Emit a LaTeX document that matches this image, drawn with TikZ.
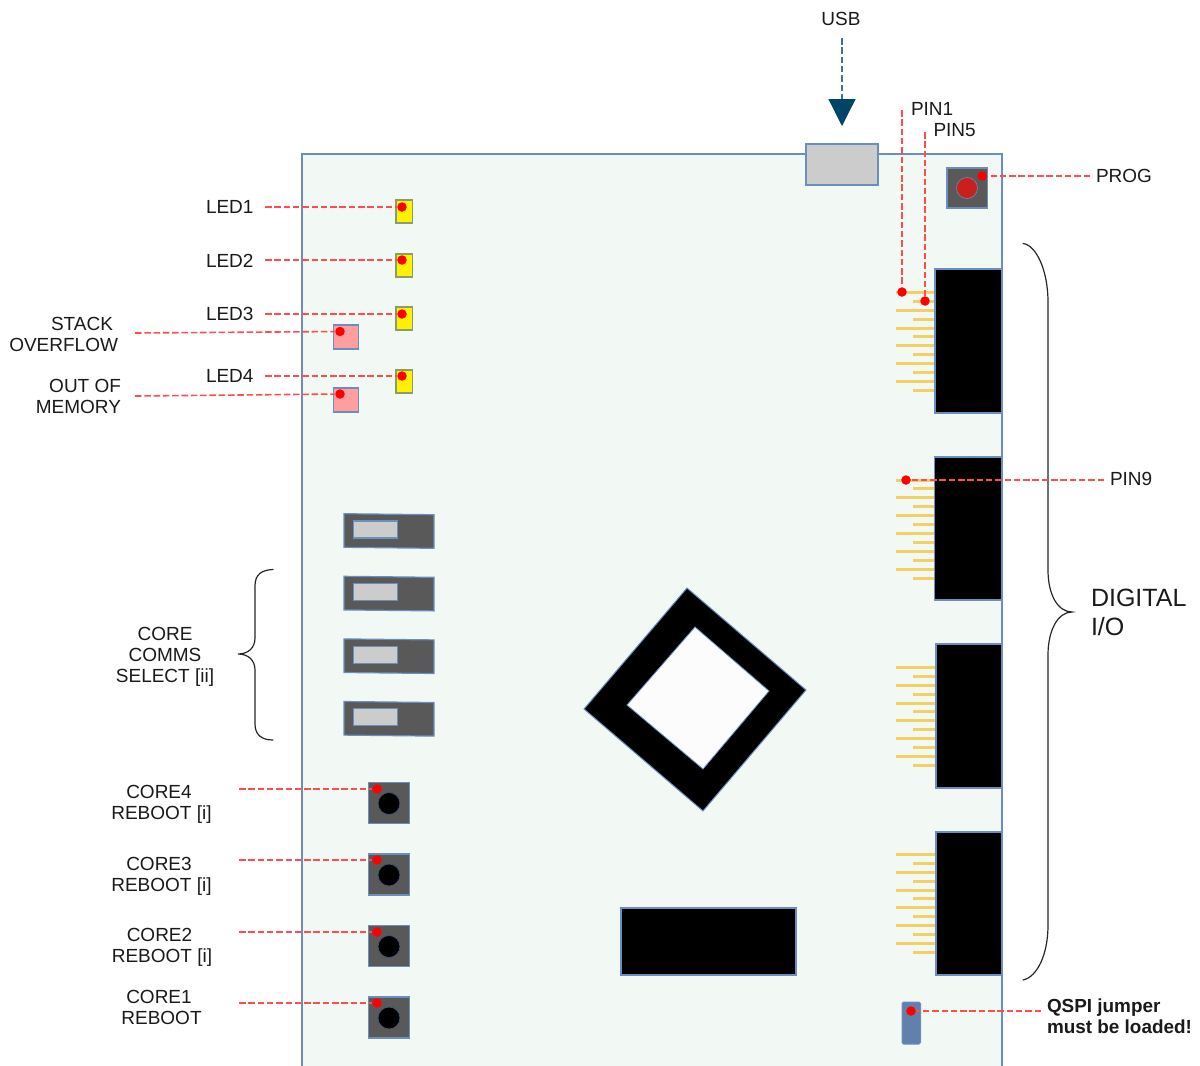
\documentclass[tikz,border=0pt]{standalone}
\usepackage{fontspec}
\setmainfont{Liberation Sans}
\usetikzlibrary{arrows.meta}
\definecolor{edgeblue}{HTML}{6C8EBF}
\definecolor{boardfill}{HTML}{F2F8F4}
\definecolor{chipgrey}{HTML}{595959}
\definecolor{pale}{HTML}{CCCCCC}
\definecolor{leadred}{HTML}{FF4D4D}
\definecolor{pinyellow}{HTML}{F5CF62}
\definecolor{usbblue}{HTML}{004466}
\definecolor{inktext}{HTML}{1A1A1A}
\definecolor{progred}{HTML}{C8201C}
\tikzset{
  lbl/.style={inner sep=0pt,outer sep=0pt,text=inktext,font=\fontsize{19}{21}\selectfont,align=center},
  lblr/.style={lbl,align=right,anchor=east},
  lbig/.style={lbl,font=\fontsize{25}{29}\selectfont,align=left,anchor=west},
  lbold/.style={lbl,font=\fontsize{18.9}{21.5}\selectfont\bfseries,align=left,anchor=west},
  part/.style={draw=edgeblue,line width=1.2pt},
  lead/.style={draw=leadred,line width=1.6pt,dash pattern=on 6.5pt off 2.8pt},
  hotdot/.style={circle,fill=red,draw=none,minimum size=9.5pt,inner sep=0pt,outer sep=0pt},
  pinline/.style={draw=pinyellow,line width=3pt},
  brace/.style={draw=black!85,line width=1.2pt,line cap=round},
}
\begin{document}
\begin{tikzpicture}[x=1pt,y=-1pt]
\useasboundingbox (0,0) rectangle (1200,1066);
% board
\fill[boardfill] (302,154) rectangle (1002,1066);
\draw[edgeblue,line width=1.4pt] (302,1066) -- (302,154) -- (1002,154) -- (1002,1066);
% USB
\node[part,fill=pale,minimum width=72pt,minimum height=41pt,inner sep=0pt,outer sep=0pt] (usb) at (842,164.5) {};
% PROG
\draw[part,fill=chipgrey] (947,168) rectangle (987.5,208);
\draw[draw=edgeblue,line width=.6pt,fill=progred] (967,188) circle (10.5);
% LEDs
\foreach \t in {200,254,307,370}
  \draw[part,draw=edgeblue!80!black!70!yellow,fill=yellow] (396,\t) rectangle +(16.5,23);
\foreach \t in {325,388}
  \draw[part,fill=red!38!white] (333.5,\t) rectangle +(25,24);
% header pins
\foreach \base/\sx in {292.3/935,480/934,667.3/936,854.3/936}{
  \foreach \i in {0,2,4,6,8,10}
    \draw[pinline] (895.5,\base+8.93*\i) -- (\sx,\base+8.93*\i);
  \foreach \i in {1,3,5,7,9,11}
    \draw[pinline] (913,\base+8.93*\i) -- (\sx,\base+8.93*\i);
}
% headers
\draw[part,fill=black] (935,269) rectangle (1002,413);
\draw[part,fill=black] (934.5,457) rectangle (1002,600);
\draw[part,fill=black] (936,644) rectangle (1002,788);
\draw[part,fill=black] (936,832) rectangle (1002,975);
% switches
\foreach \t in {513.7,576.3,638.9,701.5}{
  \draw[part,fill=chipgrey] (344,\t) -- (434,\t+1) -- (434,\t+34.6) -- (344,\t+33.6) -- cycle;
  \draw[part,fill=pale] (353.3,\t+7.3) rectangle (397.7,\t+24.3);
}
% buttons
\foreach \t in {782.5,854,925.5,997}{
  \draw[part,fill=chipgrey] (368.5,\t) rectangle (409.5,\t+41);
  \draw[draw=edgeblue!60!black,line width=.8pt,fill=black] (389,\t+21) circle (11);
}
% processor
\draw[draw=edgeblue,line width=1pt,fill=black] (687,588) -- (806,690) -- (703,811) -- (584,709) -- cycle;
\draw[draw=edgeblue,line width=.8pt,fill=white!99!black] (695,627) -- (769,691) -- (703,769) -- (627,705) -- cycle;
\draw[part,fill=black] (621,908) rectangle (796,975);
% jumper
\draw[draw=edgeblue,line width=1pt,fill=edgeblue!90!black,rounded corners=1.5pt] (902,1002) rectangle (920.5,1044);
% braces
\draw[brace] (273,569.5) .. controls (262,570) and (255,574) .. (255,586) -- (255,638)
  .. controls (255,648) and (248,654) .. (238,654)
  .. controls (248,654) and (255,660) .. (255,670) -- (255,724)
  .. controls (255,735) and (262,740) .. (273,740);
\draw[brace] (1023,243.5) .. controls (1036,245) and (1048,270) .. (1048,302) -- (1048,570)
  .. controls (1048,595) and (1058,612) .. (1072,612)
  .. controls (1058,612) and (1048,630) .. (1048,655) -- (1048,925)
  .. controls (1048,955) and (1037,977) .. (1023,980);
% dots
\node[hotdot] (dprog) at (982,176) {};
\node[hotdot] (dled1) at (402,207) {};
\node[hotdot] (dled2) at (402,260) {};
\node[hotdot] (dled3) at (402,314) {};
\node[hotdot] (dled4) at (402,376) {};
\node[hotdot] (dstack) at (340,331.5) {};
\node[hotdot] (doom) at (340,394) {};
\node[hotdot] (dpin1) at (902,292) {};
\node[hotdot] (dpin5) at (925,301) {};
\node[hotdot] (dpin9) at (906,480) {};
\node[hotdot] (dc4) at (377,789) {};
\node[hotdot] (dc3) at (377,860) {};
\node[hotdot] (dc2) at (377,932) {};
\node[hotdot] (dc1) at (377,1003) {};
\node[hotdot] (dqspi) at (911,1011) {};
% free ends
\coordinate (fusb) at (842,38);
\coordinate (fprog) at (1090,176);
\coordinate (fled1) at (265,207);
\coordinate (fled2) at (265,260);
\coordinate (fled3) at (265,314);
\coordinate (fled4) at (265,376);
\coordinate (fstack) at (135,333);
\coordinate (foom) at (135,396);
\coordinate (fpin1) at (902,110);
\coordinate (fpin5) at (925,132);
\coordinate (fpin9) at (1104,480);
\coordinate (fc4) at (239,789);
\coordinate (fc3) at (239,860);
\coordinate (fc2) at (239,932);
\coordinate (fc1) at (239,1003);
\coordinate (fqspi) at (1041,1011);
% connectors
\foreach \a/\b in {fprog/dprog,fled1/dled1,fled2/dled2,fled3/dled3,fled4/dled4,fstack/dstack,foom/doom,fpin1/dpin1,fpin5/dpin5,fpin9/dpin9,fc4/dc4,fc3/dc3,fc2/dc2,fc1/dc1,fqspi/dqspi}
  \draw[lead] (\a) -- (\b);
\draw[draw=usbblue!75!white,line width=1.3pt,dash pattern=on 6.5pt off 2.8pt,shorten >=18pt,-{Triangle[length=27pt,width=27pt,color=usbblue]}] (fusb) -- (usb.north);
% labels
\node[lbl] (lusb) at (841,18.5) {USB};
\node[lbl,anchor=west] (lpin1) at (911,109) {PIN1};
\node[lbl,anchor=west] (lpin5) at (933.5,130) {PIN5};
\node[lbl,anchor=west] (lprog) at (1096,176) {PROG};
\node[lbl,anchor=west] (lpin9) at (1110,479) {PIN9};
\node[lbl,anchor=west] (ll1) at (206,206.5) {LED1};
\node[lbl,anchor=west] (ll2) at (206,260.5) {LED2};
\node[lbl,anchor=west] (ll3) at (206,313.5) {LED3};
\node[lbl,anchor=west] (ll4) at (206,376) {LED4};
\node[lblr] (lstack) at (118,334.5) {STACK\rule{5pt}{0pt}\\OVERFLOW};
\node[lblr] (loom) at (121,396.5) {OUT OF\\MEMORY};
\node[lbl] (lsel) at (165,657) {CORE\\COMMS\\SELECT [ii]};
\node[lbl] (lc4) at (161.5,804) {CORE4\rule{5pt}{0pt}\\REBOOT [i]};
\node[lbl] (lc3) at (161.5,876) {CORE3\rule{5pt}{0pt}\\REBOOT [i]};
\node[lbl] (lc2) at (162,947) {CORE2\rule{5pt}{0pt}\\REBOOT [i]};
\node[lbl] (lc1) at (161.5,1007.5) {CORE1\rule{5pt}{0pt}\\REBOOT};
\node[lbig] (lio) at (1091,612.5) {DIGITAL\\I/O};
\node[lbold] (lqspi) at (1047,1016) {QSPI jumper\\must be loaded!};
\end{tikzpicture}
\end{document}
